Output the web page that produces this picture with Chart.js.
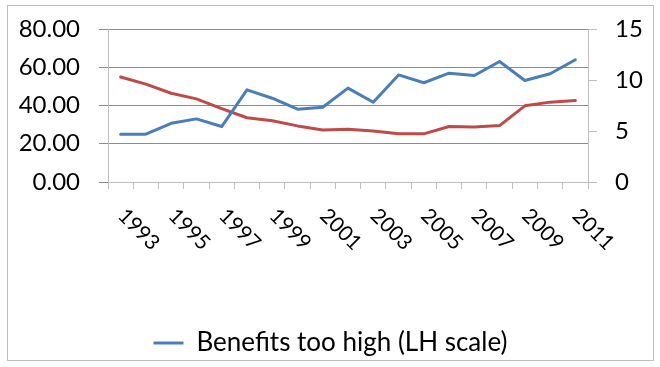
<!DOCTYPE html>
<html>
<head>
<meta charset="utf-8">
<script src="https://cdn.jsdelivr.net/npm/chart.js@4.4.0/dist/chart.umd.min.js"></script>
<style>
  body { margin: 0; background: #fff; }
  #box {
    position: absolute;
    left: 7px;
    top: 5px;
    width: 645px;
    height: 354px;
    border: 1px solid #bfbfbf;
  }
</style>
</head>
<body>
<div id="box"><canvas id="benefits" width="645" height="354"></canvas></div>
<script>
let years = ['1993', '1994', '1995', '1996', '1997', '1998', '1999', '2000', '2001', '2002',
  '2003', '2004', '2005', '2006', '2007', '2008', '2009', '2010', '2011']
let shownYears = ['1993', '1995', '1997', '1999', '2001', '2003', '2005', '2007', '2009', '2011']

// left hand scale
let tooHigh = [25.0, 25.0, 30.7, 33.0, 29.0, 48.2, 43.8, 38.1, 39.1, 49.1,
  41.7, 56.0, 51.9, 56.9, 55.7, 63.0, 53.1, 56.6, 63.9]
// right hand scale
let tooLow = [10.3, 9.6, 8.7, 8.15, 7.2, 6.3, 6.0, 5.5, 5.1, 5.17,
  5.0, 4.72, 4.72, 5.44, 5.4, 5.53, 7.47, 7.83, 7.99]

let leftTicks = [0, 20, 40, 60, 80]
let rightTicks = [0, 5, 10, 15]

// rotated year labels, going down to the right like Excel does
let yearLabels = {
  id: 'yearLabels',
  afterDraw(chart) {
    let ctx = chart.ctx
    let xs = chart.scales.x
    ctx.save()
    ctx.font = '21px Lato'
    ctx.fillStyle = '#000'
    ctx.textAlign = 'left'
    ctx.textBaseline = 'alphabetic'
    shownYears.forEach(function (yr) {
      let x = xs.getPixelForValue(years.indexOf(yr))
      ctx.save()
      ctx.translate(x - 4, xs.top + 35)
      ctx.rotate(Math.PI / 4)
      ctx.fillText(yr, 0, 0)
      ctx.restore()
    })
    ctx.restore()
  }
}

// keep the big tick padding from pushing the plot area down
function fixWidth(w) {
  return function (scale) {
    scale.width = w
    scale.paddingTop = 14
    scale.paddingBottom = 14
  }
}

let benefits = new Chart(document.querySelector('#benefits'), {
  type: 'line',
  plugins: [yearLabels],
  data: {
    labels: years,
    datasets: [{
      label: 'Benefits too high (LH scale)',
      data: tooHigh,
      yAxisID: 'y',
      borderColor: '#4a7ebb',
      backgroundColor: '#4a7ebb',
      borderWidth: 3,
      pointRadius: 0,
      tension: 0,
      borderCapStyle: 'round',
      borderJoinStyle: 'round'
    }, {
      label: 'Benefits too low (RH scale)',
      data: tooLow,
      yAxisID: 'y1',
      borderColor: '#be4b48',
      backgroundColor: '#be4b48',
      borderWidth: 3,
      pointRadius: 0,
      tension: 0,
      borderCapStyle: 'round',
      borderJoinStyle: 'round'
    }]
  },
  options: {
    responsive: false,
    animation: false,
    layout: {
      padding: {
        top: 23,
        left: 0,
        right: 0,
        bottom: -6
      }
    },
    scales: {
      x: {
        offset: true,
        border: {
          color: '#bfbfbf'
        },
        grid: {
          offset: true,
          drawOnChartArea: false,
          drawTicks: true,
          tickLength: 7,
          color: '#bfbfbf'
        },
        ticks: {
          display: false
        },
        afterFit: function (scale) {
          scale.height = 145
        }
      },
      y: {
        position: 'left',
        min: 0,
        max: 80,
        border: {
          color: '#bfbfbf'
        },
        grid: {
          color: '#8c8c8c',
          tickLength: 9
        },
        afterBuildTicks: function (scale) {
          scale.ticks = leftTicks.map(v => ({ value: v }))
        },
        ticks: {
          padding: 19,
          color: '#000',
          font: {
            family: 'Lato',
            size: 24
          },
          callback: function (value) {
            return value.toFixed(2)
          }
        },
        afterFit: fixWidth(100)
      },
      y1: {
        position: 'right',
        min: 0,
        max: 15,
        border: {
          color: '#bfbfbf'
        },
        grid: {
          drawOnChartArea: false,
          color: '#bfbfbf',
          tickLength: 9
        },
        afterBuildTicks: function (scale) {
          scale.ticks = rightTicks.map(v => ({ value: v }))
        },
        ticks: {
          padding: 18,
          color: '#000',
          font: {
            family: 'Lato',
            size: 24
          }
        },
        afterFit: fixWidth(65)
      }
    },
    plugins: {
      legend: {
        position: 'bottom',
        labels: {
          filter: function (item) {
            return item.datasetIndex === 0
          },
          usePointStyle: true,
          pointStyle: 'line',
          pointStyleWidth: 30,
          padding: 3,
          color: '#000',
          font: {
            family: 'Lato',
            size: 26
          }
        }
      },
      tooltip: {
        enabled: false
      }
    }
  }
})
</script>
</body>
</html>
